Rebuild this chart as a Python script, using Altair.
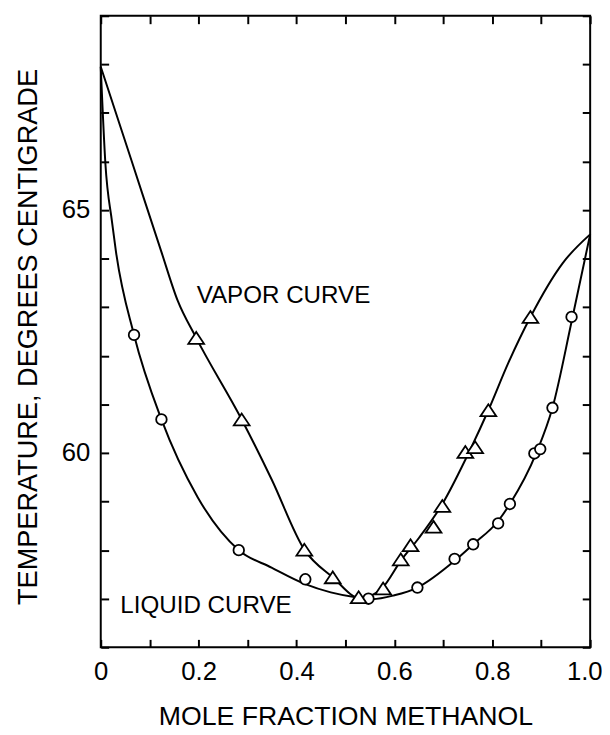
import altair as alt
import pandas as pd

# ---- data ----
liquid_curve_x = [0.0, 0.0094, 0.023, 0.031, 0.068, 0.124, 0.198, 0.282, 0.349, 0.418,
                  0.47, 0.527, 0.555, 0.60, 0.647, 0.723, 0.761, 0.812, 0.836, 0.89, 0.923, 0.962, 1.0]
liquid_curve_y = [67.95, 65.97, 64.76, 64.15, 62.43, 60.69, 59.09, 58.0, 57.64, 57.30,
                  57.13, 57.02, 56.99, 57.07, 57.23, 57.78, 58.12, 58.6, 58.95, 60.0, 60.93, 62.7, 64.5]

vapor_curve_x = [0.0, 0.0625, 0.1236, 0.157, 0.195, 0.288, 0.349, 0.416, 0.474, 0.530,
                 0.575, 0.613, 0.65, 0.698, 0.755, 0.792, 0.833, 0.878, 0.944, 1.0]
vapor_curve_y = [67.95, 66.03, 64.15, 63.14, 62.37, 60.69, 59.46, 58.01, 57.44, 57.01,
                 57.22, 57.78, 58.25, 58.95, 60.07, 60.88, 61.86, 62.8, 63.91, 64.5]

liquid_pts_x = [0.068, 0.124, 0.282, 0.418, 0.547, 0.647, 0.723, 0.761, 0.812, 0.836, 0.886, 0.898, 0.923, 0.962]
liquid_pts_y = [62.43, 60.69, 58.0, 57.40, 57.0, 57.23, 57.82, 58.12, 58.55, 58.95, 59.99, 60.08, 60.93, 62.80]

vapor_pts_x = [0.195, 0.288, 0.416, 0.474, 0.527, 0.577, 0.613, 0.633, 0.68, 0.698, 0.745, 0.765, 0.792, 0.878]
vapor_pts_y = [62.37, 60.69, 58.01, 57.44, 57.03, 57.21, 57.81, 58.1, 58.48, 58.91, 60.02, 60.12, 60.88, 62.80]

annot_text = ["VAPOR CURVE", "LIQUID CURVE"]
annot_x = [0.196, 0.040]
annot_y = [63.08, 56.70]

x_tick_values = [0.0, 0.1, 0.2, 0.3, 0.4, 0.5, 0.6, 0.7, 0.8, 0.9, 1.0]
x_tick_labels = {0.0: "0", 0.2: "0.2", 0.4: "0.4", 0.6: "0.6", 0.8: "0.8", 1.0: "1.0"}
y_tick_values = list(range(56, 70))
y_tick_labels = {60: "60", 65: "65"}

x_title = "MOLE FRACTION METHANOL"
y_title = "TEMPERATURE, DEGREES CENTIGRADE"

# ---- styling ----
FONT = "Liberation Sans, Arial, sans-serif"


def label_expr(mapping):
    expr = "''"
    for v, t in sorted(mapping.items(), reverse=True):
        expr = f"abs(datum.value - {v}) < 1e-6 ? '{t}' : ({expr})"
    return expr


x_scale = alt.Scale(domain=[0, 1], nice=False, zero=False)
y_scale = alt.Scale(domain=[56, 69], nice=False, zero=False)

common = dict(grid=False, domain=False, tickColor="black", tickWidth=2, tickSize=8, offset=-8,
              labelColor="black", labelFont=FONT, labelFontSize=26)

bottom_axis = alt.Axis(orient="bottom", values=x_tick_values, labelExpr=label_expr(x_tick_labels),
                       labelPadding=12, labelFlush=False,
                       labelOffset={"condition": {"test": "datum.value >= 1", "value": -6}, "value": 0},
                       title=x_title, titleFont=FONT, titleFontSize=27,
                       titleFontWeight="normal", titleColor="black", titleY=86,
                       titleBaseline="alphabetic", **common)
left_axis = alt.Axis(orient="left", values=y_tick_values, labelExpr=label_expr(y_tick_labels),
                     labelPadding=11, title=y_title, titleFont=FONT, titleFontSize=27.5,
                     titleFontWeight="normal", titleColor="black", titleX=-73, titleY=325,
                     titleAngle=270, titleAlign="center", titleBaseline="alphabetic", **common)
top_axis = alt.Axis(orient="top", values=x_tick_values, labels=False, title=None, **common)
right_axis = alt.Axis(orient="right", values=y_tick_values, labels=False, title=None, **common)

liq_curve = pd.DataFrame({"x": liquid_curve_x, "y": liquid_curve_y})
vap_curve = pd.DataFrame({"x": vapor_curve_x, "y": vapor_curve_y})
liq_pts = pd.DataFrame({"x": liquid_pts_x, "y": liquid_pts_y})
vap_pts = pd.DataFrame({"x": vapor_pts_x, "y": vapor_pts_y})
annots = pd.DataFrame({"x": annot_x, "y": annot_y, "t": annot_text})

liquid_line = alt.Chart(liq_curve).mark_line(color="black", strokeWidth=2, interpolate="monotone").encode(
    x=alt.X("x:Q", scale=x_scale, axis=bottom_axis),
    y=alt.Y("y:Q", scale=y_scale, axis=left_axis),
)
vapor_line = alt.Chart(vap_curve).mark_line(color="black", strokeWidth=2, interpolate="monotone").encode(
    x=alt.X("x:Q", scale=x_scale, axis=top_axis),
    y=alt.Y("y:Q", scale=y_scale, axis=right_axis),
)
circles = alt.Chart(liq_pts).mark_point(shape="circle", size=115, filled=True, fill="white",
                                         stroke="black", strokeWidth=1.8, opacity=1).encode(
    x=alt.X("x:Q", scale=x_scale, axis=None),
    y=alt.Y("y:Q", scale=y_scale, axis=None),
)
triangles = alt.Chart(vap_pts).mark_point(shape="M0,-0.75L-1,0.75L1,0.75Z", size=256, filled=True,
                                           fill="white", stroke="black", strokeWidth=1.8, opacity=1).encode(
    x=alt.X("x:Q", scale=x_scale, axis=None),
    y=alt.Y("y:Q", scale=y_scale, axis=None),
)
labels = alt.Chart(annots).mark_text(font=FONT, fontSize=24.5, align="left", baseline="alphabetic",
                                      color="black").encode(
    x=alt.X("x:Q", scale=x_scale, axis=None),
    y=alt.Y("y:Q", scale=y_scale, axis=None),
    text="t:N",
)

chart = alt.layer(liquid_line, vapor_line, circles, triangles, labels).resolve_axis(
    x="independent", y="independent"
).properties(
    width=496, height=640,
    autosize=alt.AutoSizeParams(type="none"),
    padding={"left": 94, "top": 3, "right": 12, "bottom": 84},
    background="white",
).configure_view(stroke="black", strokeWidth=2)

chart.save("out.html", embed_options={"renderer": "svg", "actions": False})
